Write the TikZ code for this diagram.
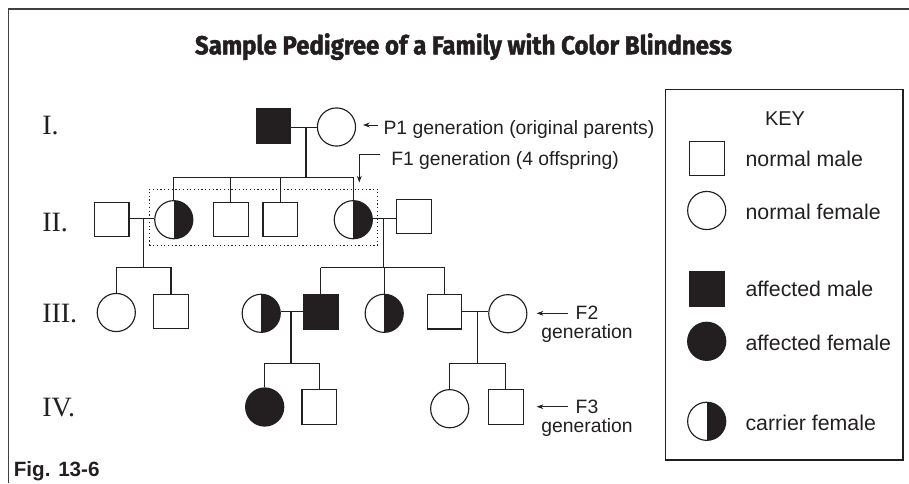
\documentclass[tikz,border=0pt]{standalone}
\usepackage{fontspec}
\usepackage{graphicx}
\usetikzlibrary{arrows.meta}
\newfontfamily\labelfont{Liberation Sans}
\newfontfamily\genfont{Liberation Serif}
\newfontfamily\titlefont{Fira Sans}[BoldFeatures={FakeBold=1.6}]
\definecolor{ink}{RGB}{35,31,32}

\begin{document}
\begin{tikzpicture}[x=0.75pt,y=-0.75pt,
  line width=0.85pt, color=ink,
  sym/.style={draw=ink,fill=white,inner sep=0pt,line width=0.85pt},
  male/.style={sym,rectangle,minimum size=25.9pt},
  female/.style={sym,circle,minimum size=28.6pt},
  affected/.style={fill=ink},
  carrier/.style={female,path picture={\fill[ink] (path picture bounding box.north) rectangle (path picture bounding box.south east);}},
  genlabel/.style={font=\genfont\fontsize{21}{24}\selectfont,anchor=base west,inner sep=0pt},
  note/.style={font=\labelfont\fontsize{14.5}{17}\selectfont,inner sep=0pt},
  keytext/.style={font=\labelfont\fontsize{16}{19}\selectfont,anchor=base west,inner sep=0pt},
  tip/.style={-{Stealth[length=5pt,width=3.6pt]},line width=0.7pt}
]
\useasboundingbox (0,0) rectangle (909,483);

% outer frame (top and left edges)
\draw[line width=1.2pt,color=black!75] (8.5,483) -- (8.5,9) -- (909,9);

% title
\node[anchor=base,inner sep=0pt] (title) at (463.5,54.3)
  {\resizebox{402.75pt}{\height}{\titlefont\bfseries\fontsize{19.5}{22}\selectfont Sample Pedigree of a Family with Color Blindness}};

% generation numerals
\node[genlabel] (gI)   at (41.7,134.3) {I.};
\node[genlabel] (gII)  at (41.7,231.5) {II.};
\node[genlabel] (gIII) at (41.7,322)   {III.};
\node[genlabel] (gIV)  at (41.7,416)   {IV.};

% generation I
\node[male,affected] (I1) at (273.5,126) {};
\node[female] (I2) at (336.5,127) {};
\coordinate (m1) at (306,127.5);
\coordinate (s2) at (306,177.3);

% generation II
\node[male]    (II1) at (111.7,219.5) {};
\node[carrier] (II2) at (173.8,219.7) {};
\node[male]    (II3) at (230.8,219.5) {};
\node[male]    (II4) at (280.2,219.5) {};
\node[carrier] (II5) at (353.3,219.7) {};
\node[male]    (II6) at (414,216.5) {};
\coordinate (m2a) at (143.3,218.3);
\coordinate (m2b) at (383.3,218.3);
\coordinate (s3a) at (143.3,267.3);
\coordinate (s3b) at (383.3,267.5);

% generation III
\node[female]        (III1) at (116.3,312.5) {};
\node[male]          (III2) at (171,311.5) {};
\node[carrier]       (III3) at (261.2,313.3) {};
\node[male,affected] (III4) at (320.8,311.7) {};
\node[carrier]       (III5) at (384.2,313.3) {};
\node[male]          (III6) at (444.5,311.7) {};
\node[female]        (III7) at (507.8,313.7) {};
\coordinate (m3a) at (291,311.7);
\coordinate (m3b) at (477.7,311.7);
\coordinate (s4a) at (291,363.3);
\coordinate (s4b) at (477.7,363.3);

% generation IV
\node[female,affected] (IV1) at (264.7,407) {};
\node[male]            (IV2) at (319.2,406.8) {};
\node[female]          (IV3) at (449.7,408.7) {};
\node[male]            (IV4) at (505.8,406.8) {};

% marriage, descent and sibship lines
\draw (I1.east |- m1) -- (I2.west |- m1);
\draw (m1) -- (s2);
\draw (II2.north |- s2) -- (II5.north |- s2);
\foreach \c in {II2,II3,II4,II5} \draw (\c.north |- s2) -- (\c.north);

\draw (II1.east |- m2a) -- (II2.west |- m2a);
\draw (m2a) -- (s3a);
\draw (III1.north |- s3a) -- (III2.north |- s3a);
\foreach \c in {III1,III2} \draw (\c.north |- s3a) -- (\c.north);

\draw (II5.east |- m2b) -- (II6.west |- m2b);
\draw (m2b) -- (s3b);
\draw (III4.north |- s3b) -- (III6.north |- s3b);
\foreach \c in {III4,III5,III6} \draw (\c.north |- s3b) -- (\c.north);

\draw (III3.east |- m3a) -- (III4.west |- m3a);
\draw (m3a) -- (s4a);
\draw (IV1.north |- s4a) -- (IV2.north |- s4a);
\foreach \c in {IV1,IV2} \draw (\c.north |- s4a) -- (\c.north);

\draw (III6.east |- m3b) -- (III7.west |- m3b);
\draw (m3b) -- (s4b);
\draw (IV3.north |- s4b) -- (IV4.north |- s4b);
\foreach \c in {IV3,IV4} \draw (\c.north |- s4b) -- (\c.north);

% F1 offspring group
\node[draw=ink,dash pattern=on 0.9pt off 1.9pt,line width=0.7pt,inner sep=0pt,
      minimum width=171.3pt,minimum height=41.8pt] (f1box) at (263.5,217.15) {};

% annotations
\node[note,anchor=base west] (p1lab) at (383,134.3) {P1 generation (original parents)};
\coordinate (p1a) at (378,125);
\coordinate (p1b) at (363,125);
\draw[tip] (p1a) -- (p1b);

\node[note,anchor=base west] (f1lab) at (390.7,165) {F1 generation (4 offspring)};
\coordinate (f1s) at (380,154);
\coordinate (f1e) at (359.3,182.5);
\draw[tip] (f1s) -| (f1e);

\node[note,anchor=base] (f2lab) at (587,319.3) {F2};
\node[note,anchor=base] (f2gen) at (587,338.3) {generation};
\coordinate (f2a) at (568.3,313.3);
\coordinate (f2b) at (536.7,313.3);
\draw[tip] (f2a) -- (f2b);

\node[note,anchor=base] (f3lab) at (587,413.3) {F3};
\node[note,anchor=base] (f3gen) at (587,432.7) {generation};
\coordinate (f3a) at (568.3,406.7);
\coordinate (f3b) at (536.7,406.7);
\draw[tip] (f3a) -- (f3b);

% key
\node[draw=ink,line width=0.9pt,inner sep=0pt,minimum width=178pt,minimum height=278pt] (keybox) at (784.35,274.65) {};
\node[note,font=\labelfont\fontsize{15}{18}\selectfont,anchor=base] (keyhead) at (785,125.7) {KEY};
\node[male]            (k1) at (706.8,158.5) {};
\node[female]          (k2) at (706.7,210.5) {};
\node[male,affected]   (k3) at (707,289) {};
\node[female,affected] (k4) at (706.7,341.3) {};
\node[carrier]         (k5) at (706.7,421.3) {};
\node[keytext] (k1t) at (745,166)   {normal male};
\node[keytext] (k2t) at (745,219.3) {normal female};
\node[keytext] (k3t) at (745,296.7) {affected male};
\node[keytext] (k4t) at (745,350.7) {affected female};
\node[keytext] (k5t) at (745,430)   {carrier female};

% figure number
\node[anchor=base west,inner sep=0pt,font=\labelfont\bfseries\fontsize{15.5}{18}\selectfont] (fig) at (13.3,476) {Fig. 13-6};
\end{tikzpicture}
\end{document}
